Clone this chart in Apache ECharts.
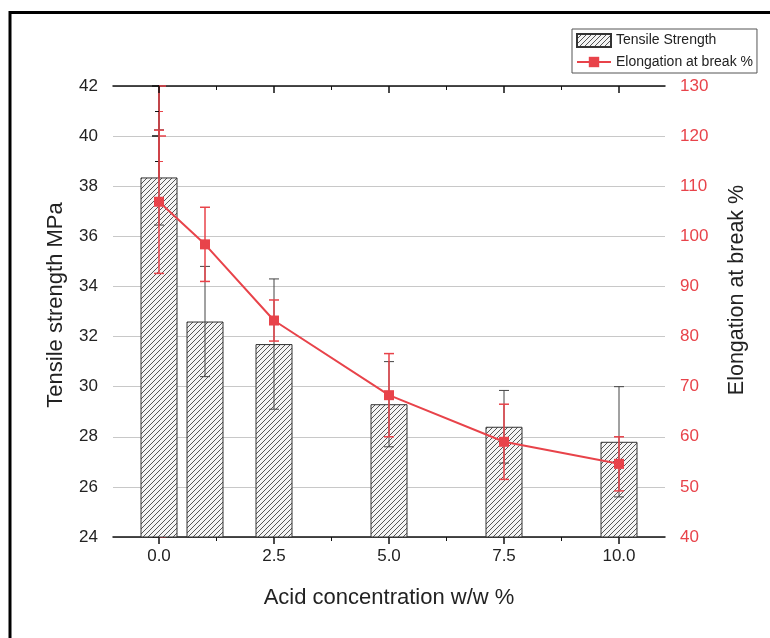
<!DOCTYPE html>
<html>
<head>
<meta charset="utf-8">
<script src="https://cdn.jsdelivr.net/npm/echarts@6/dist/echarts.min.js"></script>
<style>
  html, body { margin: 0; padding: 0; background: #fff; }
  #chart { width: 770px; height: 638px; }
</style>
</head>
<body>
<div id="chart"></div>
<script>
// data
const concentrations = [0, 1, 2.5, 5, 7.5, 10]
const tensile = [38.35, 32.6, 31.7, 29.3, 28.4, 27.8]
const tensileErr = [1.9, 2.2, 2.6, 1.7, 1.45, 2.2]
const elongation = [106.9, 98.4, 83.2, 68.3, 59.0, 54.6]
const elongationErr = [14.3, 7.4, 4.1, 8.3, 7.5, 5.4]
const xMajor = [0, 2.5, 5, 7.5, 10]
const xMinor = [-1.25, 1.25, 3.75, 6.25, 8.75, 11.25]

const RED = "#e8434a"
const FONT = "Liberation Sans"

// hatch fill for the bars
function hatch() {
  const c = document.createElement("canvas")
  c.width = 5
  c.height = 5
  const ctx = c.getContext("2d")
  ctx.fillStyle = "#f4f4f4"
  ctx.fillRect(0, 0, 5, 5)
  ctx.strokeStyle = "#555"
  ctx.lineWidth = 1
  ctx.beginPath()
  ctx.moveTo(-1, 6); ctx.lineTo(6, -1)
  ctx.moveTo(-1, 1); ctx.lineTo(1, -1)
  ctx.moveTo(4, 6); ctx.lineTo(6, 4)
  ctx.stroke()
  return { image: c, repeat: "repeat" }
}

function errorBars(color, width) {
  return function (params, api) {
    const x = api.value(0)
    const top = api.coord([x, api.value(2)])
    const bot = api.coord([x, api.value(1)])
    const hw = 5
    const style = { stroke: color, lineWidth: width }
    return {
      type: "group",
      children: [
        { type: "line", shape: { x1: top[0], y1: top[1], x2: bot[0], y2: bot[1] }, style },
        { type: "line", shape: { x1: top[0] - hw, y1: top[1], x2: top[0] + hw, y2: top[1] }, style },
        { type: "line", shape: { x1: bot[0] - hw, y1: bot[1], x2: bot[0] + hw, y2: bot[1] }, style },
      ],
    }
  }
}

const chart = echarts.init(document.getElementById("chart"), null, { renderer: "canvas" })

const baseX = { type: "value", min: -1, max: 11, splitLine: { show: false } }

const option = {
  animation: false,
  textStyle: { fontFamily: FONT },
  grid: { left: 113, right: 105, top: 86, bottom: 101 },
  legend: {
    data: [{ name: "Tensile Strength", icon: "rect" }, { name: "Elongation at break %" }],
    orient: "vertical",
    left: 572,
    top: 29,
    borderColor: "#555",
    borderWidth: 1,
    padding: [4, 4, 4, 4],
    itemWidth: 34,
    itemHeight: 13,
    itemGap: 7,
    textStyle: { fontSize: 14, color: "#222", fontFamily: FONT },
  },
  xAxis: [
    Object.assign({}, baseX, {
      position: "bottom",
      name: "Acid concentration w/w %",
      nameLocation: "middle",
      nameGap: 50,
      nameTextStyle: { fontSize: 22, color: "#222", fontFamily: FONT },
      axisLine: { lineStyle: { color: "#111", width: 1.5 } },
      axisTick: { customValues: xMajor, length: 7, lineStyle: { color: "#111", width: 1.5 } },
      axisLabel: {
        customValues: xMajor, margin: 11, fontSize: 17, color: "#222", fontFamily: FONT,
        formatter: (v) => v.toFixed(1),
      },
    }),
    Object.assign({}, baseX, {
      position: "bottom",
      axisLine: { show: false },
      axisTick: { customValues: xMinor, length: 4, lineStyle: { color: "#111" } },
      axisLabel: { show: false },
    }),
    Object.assign({}, baseX, {
      position: "top",
      axisLine: { lineStyle: { color: "#111", width: 1.5 } },
      axisTick: { customValues: xMajor, inside: true, length: 7, lineStyle: { color: "#111", width: 1.5 } },
      axisLabel: { show: false },
    }),
    Object.assign({}, baseX, {
      position: "top",
      axisLine: { show: false },
      axisTick: { customValues: xMinor, inside: true, length: 4, lineStyle: { color: "#111" } },
      axisLabel: { show: false },
    }),
  ],
  yAxis: [
    {
      type: "value",
      position: "left",
      min: 24,
      max: 42,
      interval: 2,
      axisLine: { show: true, lineStyle: { color: "#111", width: 1.5 } },
      axisTick: { show: true, length: 7, lineStyle: { color: "#111", width: 1.5 } },
      minorTick: { show: true, splitNumber: 2, length: 4, lineStyle: { color: "#111" } },
      axisLabel: { margin: 15, fontSize: 17, color: "#222", fontFamily: FONT },
      splitLine: { show: true, lineStyle: { color: "#c8c8c8", width: 1 } },
    },
    {
      type: "value",
      position: "right",
      min: 40,
      max: 130,
      interval: 10,
      axisLine: { show: true, lineStyle: { color: RED, width: 1.5 } },
      axisTick: { show: true, length: 7, lineStyle: { color: RED, width: 1.5 } },
      minorTick: { show: true, splitNumber: 2, length: 4, lineStyle: { color: RED } },
      axisLabel: { margin: 15, fontSize: 17, color: RED, fontFamily: FONT },
      splitLine: { show: false },
    },
  ],
  series: [
    {
      name: "Tensile Strength",
      type: "bar",
      xAxisIndex: 0,
      yAxisIndex: 0,
      barWidth: 37,
      data: concentrations.map((x, i) => [x, tensile[i]]),
      itemStyle: { color: hatch(), borderColor: "#333", borderWidth: 1 },
      z: 2,
    },
    {
      name: "tensileErr",
      type: "custom",
      xAxisIndex: 0,
      yAxisIndex: 0,
      renderItem: errorBars("#444", 1),
      data: concentrations.map((x, i) => [x, tensile[i] - tensileErr[i], tensile[i] + tensileErr[i]]),
      z: 3,
    },
    {
      name: "elongErr",
      type: "custom",
      xAxisIndex: 0,
      yAxisIndex: 1,
      renderItem: errorBars(RED, 1.5),
      data: concentrations.map((x, i) => [x, elongation[i] - elongationErr[i], elongation[i] + elongationErr[i]]),
      z: 4,
    },
    {
      name: "Elongation at break %",
      type: "line",
      xAxisIndex: 0,
      yAxisIndex: 1,
      symbol: "rect",
      symbolSize: 10,
      data: concentrations.map((x, i) => [x, elongation[i]]),
      lineStyle: { color: RED, width: 2 },
      itemStyle: { color: RED },
      z: 5,
    },
  ],
  graphic: [
    {
      type: "rect",
      shape: { x: 10, y: 12.5, width: 800, height: 700 },
      style: { fill: null, stroke: "#000", lineWidth: 3 },
      silent: true,
    },
    {
      type: "text",
      x: 56,
      y: 305,
      rotation: Math.PI / 2,
      style: {
        text: "Tensile strength MPa", font: "22px " + FONT, fill: "#222",
        align: "center", verticalAlign: "middle",
      },
    },
    {
      type: "text",
      x: 737,
      y: 290,
      rotation: Math.PI / 2,
      style: {
        text: "Elongation at break %", font: "21.5px " + FONT, fill: "#222",
        align: "center", verticalAlign: "middle",
      },
    },
  ],
}

chart.setOption(option)
</script>
</body>
</html>
